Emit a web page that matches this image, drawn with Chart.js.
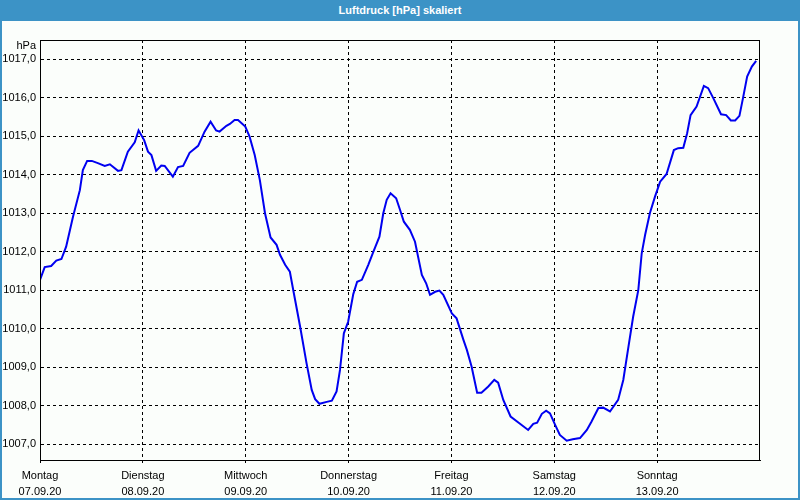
<!DOCTYPE html>
<html>
<head>
<meta charset="utf-8">
<script src="https://cdn.jsdelivr.net/npm/chart.js@4"></script>
<style>
    body { margin: 0; background: #fbfefb; }
    #frame {
        position: relative; width: 800px; height: 500px; box-sizing: border-box;
        border: 2px solid #3c93c6; border-top: none; overflow: hidden;
    }
    #titel {
        position: absolute; left: 0; top: 0; width: 800px; height: 21px; margin-left: -2px;
        background: #3c93c6; color: #fff; font: bold 11px Tahoma, "Liberation Sans", sans-serif;
        line-height: 21px; text-align: center;
    }
    #chart { position: absolute; left: -2px; top: 0; }
</style>
</head>
<body>
<div id="frame">
    <canvas id="chart" width="800" height="500"></canvas>
    <div id="titel">Luftdruck [hPa] skaliert</div>
</div>
<script>
// Stunden seit Montag 00:00 und Luftdruck in hPa
const stunden = [0, 1.1, 2.6, 3.8, 5.0, 6.1, 7.7, 9.3, 10.0, 11.0, 12.1, 13.5, 15.1, 16.3, 18.2, 19.0, 20.5, 22.1, 23.0,
    24.3, 25.2, 26.0, 27.1, 28.3, 29.1, 31.0, 32.2, 33.4, 34.9, 36.9, 38.4, 39.8, 41.1, 41.9, 43.5, 44.3, 45.4, 46.2, 47.9,
    48.9, 50.1, 51.3, 52.5, 53.8, 55.2, 56.0, 57.2, 58.3, 59.1, 60.7, 62.2, 63.4, 64.2, 65.2, 66.9, 68.1, 69.2, 70.0, 70.9, 71.9,
    73.1, 74.0, 75.1, 76.6, 77.8, 79.2, 80.1, 80.9, 81.8, 83.1, 84.0, 84.9, 86.3, 87.5, 89.1, 90.1, 91.0, 92.2, 93.2, 94.1, 96.1,
    97.2, 98.8, 99.6, 100.7, 102.0, 103.0, 104.6, 106.0, 106.9, 108.1, 109.8, 112.0, 113.9, 115.1, 116.0, 117.1, 118.1, 119.0,
    120.2, 121.3, 122.9, 124.3, 126.0, 127.6, 128.7, 130.3, 131.4, 133.0, 134.9, 136.1, 137.3, 138.4, 139.6, 140.4, 141.2, 142.3, 143.5,
    144.7, 146.2, 147.9, 148.9, 150.1, 151.0, 151.8, 153.2, 154.9, 155.9, 157.1, 158.9, 160.1, 161.2, 162.2, 163.2, 164.1, 165.0, 166.1, 167.1];
const luftdruck = [1011.27, 1011.60, 1011.63, 1011.77, 1011.81, 1012.13, 1012.91, 1013.60, 1014.12, 1014.36, 1014.36, 1014.30, 1014.23, 1014.27, 1014.10, 1014.12, 1014.60, 1014.84, 1015.15,
    1014.90, 1014.60, 1014.51, 1014.10, 1014.24, 1014.23, 1013.95, 1014.20, 1014.23, 1014.57, 1014.75, 1015.12, 1015.38, 1015.15, 1015.12, 1015.27, 1015.32, 1015.42, 1015.42, 1015.25,
    1014.99, 1014.51, 1013.86, 1013.00, 1012.37, 1012.18, 1011.92, 1011.66, 1011.48, 1011.00, 1010.05, 1009.10, 1008.41, 1008.17, 1008.05, 1008.10, 1008.13, 1008.37, 1008.93, 1009.88, 1010.18,
    1010.90, 1011.22, 1011.27, 1011.66, 1012.00, 1012.39, 1013.00, 1013.35, 1013.52, 1013.39, 1013.09, 1012.78, 1012.57, 1012.26, 1011.40, 1011.18, 1010.88, 1010.96, 1010.99, 1010.88, 1010.40,
    1010.27, 1009.71, 1009.45, 1009.02, 1008.34, 1008.34, 1008.50, 1008.67, 1008.60, 1008.15, 1007.72, 1007.53, 1007.37, 1007.53, 1007.56, 1007.79, 1007.87, 1007.80,
    1007.50, 1007.24, 1007.09, 1007.13, 1007.16, 1007.37, 1007.59, 1007.94, 1007.95, 1007.85, 1008.15, 1008.67, 1009.53, 1010.31, 1011.00, 1011.96, 1012.44, 1013.00, 1013.43,
    1013.82, 1014.02, 1014.64, 1014.69, 1014.70, 1015.08, 1015.55, 1015.77, 1016.31, 1016.25, 1015.99, 1015.57, 1015.55, 1015.41, 1015.41, 1015.53, 1016.03, 1016.55, 1016.81, 1016.96];

const tagNamen = ['Montag', 'Dienstag', 'Mittwoch', 'Donnerstag', 'Freitag', 'Samstag', 'Sonntag'];
const tagDaten = ['07.09.20', '08.09.20', '09.09.20', '10.09.20', '11.09.20', '12.09.20', '13.09.20'];
const xTicks = [0, 24, 48, 72, 96, 120, 144];
const yTicks = [1007, 1008, 1009, 1010, 1011, 1012, 1013, 1014, 1015, 1016, 1017];

const schrift = { family: 'Tahoma, "Liberation Sans", sans-serif', size: 11 };

// Rahmen um die Zeichenfläche und die Einheit oben links
const rahmen = {
    id: 'rahmen',
    afterDraw(chart) {
        const a = chart.chartArea;
        const ctx = chart.ctx;
        ctx.save();
        ctx.strokeStyle = '#000';
        ctx.lineWidth = 1;
        ctx.strokeRect(a.left + 0.5, a.top + 0.5, a.right - a.left - 1, a.bottom - a.top);
        ctx.fillStyle = '#000';
        ctx.font = '11px ' + schrift.family;
        ctx.textAlign = 'right';
        ctx.textBaseline = 'middle';
        ctx.fillText('hPa', a.left - 4, a.top + 6);
        ctx.restore();
    }
};

new Chart(document.getElementById('chart'), {
    type: 'line',
    data: {
        datasets: [{
            data: stunden.map((h, i) => ({ x: h, y: luftdruck[i] })),
            borderColor: '#0000f0',
            borderWidth: 2,
            pointRadius: 0,
            tension: 0,
            fill: false
        }]
    },
    options: {
        responsive: false,
        animation: false,
        layout: { padding: { left: 0, right: 40, top: 40, bottom: 0 } },
        plugins: { legend: { display: false }, tooltip: { enabled: false } },
        scales: {
            x: {
                type: 'linear',
                min: 0,
                max: 168,
                afterBuildTicks: s => { s.ticks = xTicks.map(v => ({ value: v })); },
                afterFit: s => { s.height = 40; },
                ticks: {
                    color: '#000',
                    font: { ...schrift, lineHeight: 1.45 },
                    padding: 5,
                    maxRotation: 0,
                    autoSkip: false,
                    callback: (v) => { const i = xTicks.indexOf(v); return [tagNamen[i], tagDaten[i]]; }
                },
                grid: { color: '#000', lineWidth: 1, tickLength: 3 },
                border: { color: '#000', width: 1, dash: [3, 3] }
            },
            y: {
                min: 1006.59,
                max: 1017.5,
                afterBuildTicks: s => { s.ticks = yTicks.map(v => ({ value: v })); },
                afterFit: s => { s.width = 40; },
                ticks: {
                    color: '#000',
                    font: schrift,
                    padding: 4,
                    callback: v => v.toFixed(1).replace('.', ',')
                },
                grid: { color: '#000', lineWidth: 1, drawTicks: false },
                border: { color: '#000', width: 1, dash: [3, 3] }
            }
        }
    },
    plugins: [rahmen]
});
</script>
</body>
</html>
